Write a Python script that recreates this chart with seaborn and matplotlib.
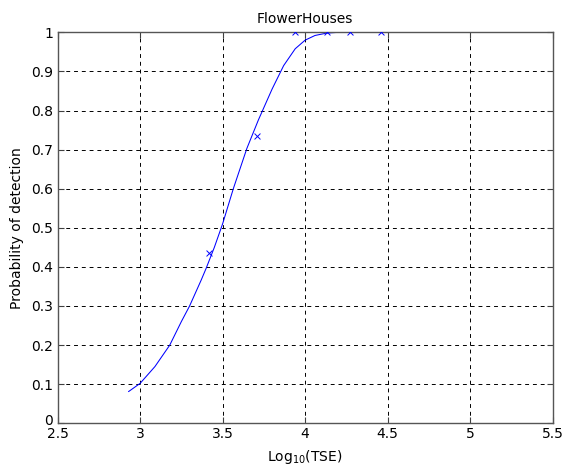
import matplotlib
matplotlib.use("Agg")
import matplotlib.pyplot as plt
import matplotlib.transforms as mtransforms
import seaborn as sns
from matplotlib.ticker import FormatStrFormatter

# fitted curve
curve_x = [2.93, 3.00, 3.09, 3.18, 3.25, 3.30, 3.37, 3.40, 3.45, 3.50, 3.565,
           3.647, 3.717, 3.80, 3.87, 3.94, 4.00, 4.06, 4.13, 4.20, 4.30, 4.50, 4.70, 4.95]
curve_y = [0.081, 0.102, 0.145, 0.20, 0.26, 0.30, 0.366, 0.396, 0.45, 0.51, 0.60,
           0.703, 0.776, 0.855, 0.915, 0.958, 0.980, 0.992, 0.998, 1.0, 1.0, 1.0, 1.0, 1.0]

# observed points (x markers)
obs_x = [3.42, 3.707, 3.94, 4.13, 4.27, 4.46]
obs_y = [0.435, 0.735, 1.0, 1.0, 1.0, 1.0]

xticks = [2.5, 3, 3.5, 4, 4.5, 5, 5.5]
yticks = [0, 0.1, 0.2, 0.3, 0.4, 0.5, 0.6, 0.7, 0.8, 0.9, 1]

sns.set_style("ticks", {'text.color': 'black', 'axes.labelcolor': 'black',
                        'xtick.color': '#404040', 'ytick.color': '#404040'})
plt.rcParams['font.family'] = ['DejaVu Sans']
plt.rcParams['font.size'] = 10

fig = plt.figure(figsize=(5.64, 4.70), dpi=100)
ax = fig.add_axes([0.102, 0.0994, 0.878, 0.8318])

sns.lineplot(x=curve_x, y=curve_y, sort=False, color='#0000ff', linewidth=0.75, ax=ax)
sns.scatterplot(x=obs_x, y=obs_y, marker='x', color='#0000ff', s=18, linewidth=0.7, ax=ax, zorder=3)

ax.set_xlim(2.5, 5.5)
ax.set_ylim(0, 1)
ax.set_xticks(xticks)
ax.set_yticks(yticks)
ax.xaxis.set_major_formatter(FormatStrFormatter('%g'))
ax.yaxis.set_major_formatter(FormatStrFormatter('%g'))
ax.grid(True, color='black', linestyle=(0, (4, 4)), linewidth=0.7)
ax.tick_params(direction='in', top=True, right=True, length=4, color='#404040',
               labelcolor='black', labelsize=10, pad=3)
for s in ax.spines.values():
    s.set_color('#555555')
    s.set_linewidth(1.0)

# nudge the "0" label up a little, like the reference
fig.canvas.draw()
lbl0 = ax.get_yticklabels()[0]
lbl0.set_transform(lbl0.get_transform() + mtransforms.ScaledTranslation(0, 3 / 72, fig.dpi_scale_trans))

ax.set_title('FlowerHouses', fontsize=10, pad=7, color='black')
ax.set_xlabel(r'$\mathregular{Log_{10}(TSE)}$', fontsize=10, labelpad=5, color='black')
ax.set_ylabel('Probability of detection', fontsize=10, labelpad=5, color='black')

fig.savefig('out.png', dpi=100)
